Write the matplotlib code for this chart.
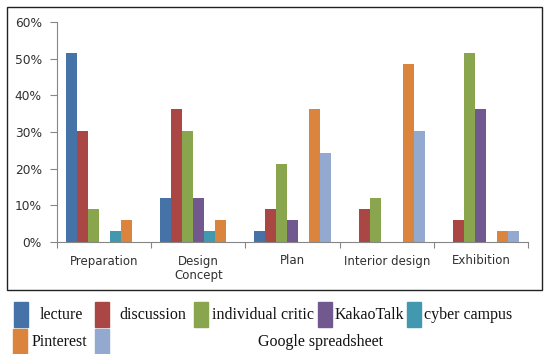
import numpy as np
import matplotlib.pyplot as plt
import matplotlib.patches as patches
from matplotlib.ticker import PercentFormatter

# stages and series (values in %)
stages = ['Preparation', 'Design\nConcept', 'Plan', 'Interior design', 'Exhibition']
series = ['lecture', 'discussion', 'individual critic', 'KakaoTalk',
          'cyber campus', 'Pinterest', 'Google spreadsheet']
lecture = [51.5, 12.1, 3.0, 0, 0]
discussion = [30.3, 36.4, 9.1, 9.1, 6.1]
individual_critic = [9.1, 30.3, 21.2, 12.1, 51.5]
kakaotalk = [0, 12.1, 6.1, 0, 36.4]
cyber_campus = [3.0, 3.0, 0, 0, 0]
pinterest = [6.1, 6.1, 36.4, 48.5, 3.0]
google_sheet = [0, 0, 24.2, 30.3, 3.0]
values = [lecture, discussion, individual_critic, kakaotalk,
          cyber_campus, pinterest, google_sheet]

colors = ['#4572A7', '#AA4643', '#89A54E', '#71588F', '#4198AF', '#DB843D', '#93A9CF']

fig = plt.figure(figsize=(5.45, 3.54), dpi=100)
ax = fig.add_axes([57 / 545, 1 - 242 / 354, (528 - 57) / 545, (242 - 22) / 354])

x = np.arange(len(stages))
w = 11 / 94
for i, (vals, c) in enumerate(zip(values, colors)):
    ax.bar(x + (i - 3) * w, vals, width=w, color=c, linewidth=0)

ax.set_xlim(-0.5, len(stages) - 0.5)
ax.set_ylim(0, 60)
ax.set_yticks(np.arange(0, 61, 10))
ax.yaxis.set_major_formatter(PercentFormatter(decimals=0))

# category boundaries as ticks, names centred between them
ax.set_xticks(np.arange(-0.5, len(stages), 1.0))
ax.set_xticklabels([])
ax.set_xticks(x, minor=True)
ax.set_xticklabels(stages, minor=True, fontsize=8.5, color='#303030')
ax.tick_params(axis='x', which='minor', length=0, pad=9)
ax.tick_params(axis='x', which='major', length=4, color='#868686', direction='out')
ax.tick_params(axis='y', length=5, pad=6, color='#868686', labelsize=8.8, labelcolor='#303030')
for s in ['top', 'right']:
    ax.spines[s].set_visible(False)
for s in ['left', 'bottom']:
    ax.spines[s].set_color('#868686')

# border round the chart area
fig.patches.append(patches.Rectangle((7 / 545, 1 - 290 / 354), (542 - 7) / 545, (290 - 7) / 354,
                                     transform=fig.transFigure, fill=False,
                                     edgecolor='#222222', linewidth=1))

# legend below the box, laid out by hand
patch_x = [14, 95, 194, 318, 407, 13, 95]
text_x = [40, 119, 212, 335, 424, 32, 320]
rows = [0, 0, 0, 0, 0, 1, 1]
row_top = [302, 329]
for name, c, px, tx, r in zip(series, colors, patch_x, text_x, rows):
    top = row_top[r]
    fig.patches.append(patches.Rectangle((px / 545, 1 - (top + 25) / 354), 14 / 545, 25 / 354,
                                         transform=fig.transFigure, color=c))
    ha = 'center' if name == 'Google spreadsheet' else 'left'
    fig.text(tx / 545, 1 - (top + 13) / 354, name, ha=ha, va='center',
             fontsize=11.5, family='Liberation Serif', color='#111111')

fig.savefig('out.png', dpi=100)
